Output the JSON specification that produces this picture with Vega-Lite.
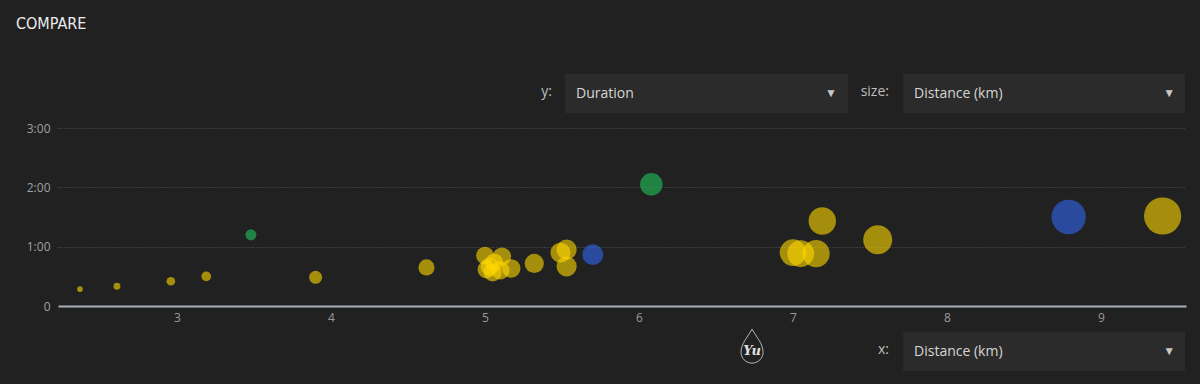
{
  "$schema": "https://vega.github.io/schema/vega-lite/v6.json",
  "width": 1128,
  "height": 178,
  "autosize": {"type": "none"},
  "padding": {"left": 58, "top": 128, "right": 14, "bottom": 78},
  "background": "#212121",
  "config": {
    "view": {"stroke": null},
    "font": "Open Sans",
    "axis": {"labelFont": "Open Sans"}
  },
  "datasets": {
    "one": [{}],
    "activities": [
      {"km": 2.37, "minutes": 17, "type": "Run"},
      {"km": 2.61, "minutes": 20, "type": "Run"},
      {"km": 2.96, "minutes": 25, "type": "Run"},
      {"km": 3.19, "minutes": 30, "type": "Run"},
      {"km": 3.48, "minutes": 72, "type": "Hike"},
      {"km": 3.90, "minutes": 29, "type": "Run"},
      {"km": 4.62, "minutes": 39, "type": "Run"},
      {"km": 5.00, "minutes": 51, "type": "Run"},
      {"km": 5.11, "minutes": 50, "type": "Run"},
      {"km": 5.03, "minutes": 40, "type": "Run"},
      {"km": 5.05, "minutes": 34, "type": "Run"},
      {"km": 5.10, "minutes": 36, "type": "Run"},
      {"km": 5.17, "minutes": 38, "type": "Run"},
      {"km": 5.01, "minutes": 37, "type": "Run"},
      {"km": 5.06, "minutes": 44, "type": "Run"},
      {"km": 5.32, "minutes": 43, "type": "Run"},
      {"km": 5.49, "minutes": 54, "type": "Run"},
      {"km": 5.53, "minutes": 57, "type": "Run"},
      {"km": 5.53, "minutes": 40, "type": "Run"},
      {"km": 5.70, "minutes": 52, "type": "Walk"},
      {"km": 6.08, "minutes": 123, "type": "Hike"},
      {"km": 7.00, "minutes": 54, "type": "Run"},
      {"km": 7.05, "minutes": 53, "type": "Run"},
      {"km": 7.15, "minutes": 53, "type": "Run"},
      {"km": 7.19, "minutes": 86, "type": "Run"},
      {"km": 7.55, "minutes": 67, "type": "Run"},
      {"km": 8.79, "minutes": 90, "type": "Walk"},
      {"km": 9.40, "minutes": 91, "type": "Run"}
    ]
  },
  "layer": [
    {
      "data": {"name": "activities"},
      "mark": {"type": "circle", "opacity": 0.6, "strokeWidth": 0},
      "encoding": {
        "x": {
          "field": "km",
          "type": "quantitative",
          "scale": {"domain": [2.2273, 9.5519], "nice": false, "zero": false},
          "axis": {
            "title": null,
            "values": [3, 4, 5, 6, 7, 8, 9],
            "format": "d",
            "grid": false,
            "ticks": false,
            "domain": true,
            "domainColor": "#a7b0b9",
            "domainWidth": 2,
            "labelColor": "#9a9a9a",
            "labelFontSize": 12,
            "labelPadding": 6
          }
        },
        "y": {
          "field": "minutes",
          "type": "quantitative",
          "scale": {"domain": [0, 180], "nice": false, "zero": true},
          "axis": {
            "title": null,
            "values": [0, 60, 120, 180],
            "labelExpr": "datum.value == 0 ? '0' : floor(datum.value / 60) + ':' + format(datum.value % 60, '02d')",
            "grid": true,
            "gridColor": "#5a5a5a",
            "gridDash": [1, 2],
            "gridWidth": 1,
            "ticks": false,
            "domain": false,
            "labelColor": "#a0a0a0",
            "labelFontSize": 12,
            "labelPadding": 8
          }
        },
        "size": {
          "field": "km",
          "type": "quantitative",
          "scale": {"type": "pow", "exponent": 2.2, "domain": [2.37, 9.41], "range": [32, 1385]},
          "legend": null
        },
        "color": {
          "field": "type",
          "type": "nominal",
          "scale": {"domain": ["Run", "Walk", "Hike"], "range": ["#ffd700", "#2f66f0", "#22c45a"]},
          "legend": null
        }
      }
    },
    {
      "data": {"name": "one"},
      "mark": {"type": "text", "text": "COMPARE", "align": "left", "baseline": "alphabetic", "font": "DejaVu Sans Condensed", "fontSize": 16, "color": "#ececec"},
      "encoding": {
        "x": {"datum": 1.9545, "type": "quantitative", "title": null},
        "y": {"datum": 280.1, "type": "quantitative", "title": null}
      }
    },
    {
      "data": {"name": "one"},
      "mark": {"type": "rect", "fill": "#2b2b2b"},
      "encoding": {
        "x": {"datum": 5.5195, "type": "quantitative", "title": null},
        "x2": {"datum": 7.3571},
        "y": {"datum": 234.6, "type": "quantitative", "title": null},
        "y2": {"datum": 195.2}
      }
    },
    {
      "data": {"name": "one"},
      "mark": {"type": "rect", "fill": "#2b2b2b"},
      "encoding": {
        "x": {"datum": 7.7143, "type": "quantitative", "title": null},
        "x2": {"datum": 9.5455},
        "y": {"datum": 234.6, "type": "quantitative", "title": null},
        "y2": {"datum": 195.2}
      }
    },
    {
      "data": {"name": "one"},
      "mark": {"type": "rect", "fill": "#2b2b2b"},
      "encoding": {
        "x": {"datum": 7.7143, "type": "quantitative", "title": null},
        "x2": {"datum": 9.5455},
        "y": {"datum": -26.3, "type": "quantitative", "title": null},
        "y2": {"datum": -65.7}
      }
    },
    {
      "data": {"name": "one"},
      "mark": {"type": "text", "text": "y:", "align": "right", "baseline": "middle", "fontSize": 14, "color": "#bdbdbd"},
      "encoding": {
        "x": {"datum": 5.435, "type": "quantitative", "title": null},
        "y": {"datum": 216.5, "type": "quantitative", "title": null}
      }
    },
    {
      "data": {"name": "one"},
      "mark": {"type": "text", "text": "Duration", "align": "left", "baseline": "middle", "fontSize": 14, "color": "#d6d6d6"},
      "encoding": {
        "x": {"datum": 5.591, "type": "quantitative", "title": null},
        "y": {"datum": 214.4, "type": "quantitative", "title": null}
      }
    },
    {
      "data": {"name": "one"},
      "mark": {"type": "text", "text": "▼", "align": "center", "baseline": "middle", "fontSize": 12, "color": "#c8c8c8"},
      "encoding": {
        "x": {"datum": 7.247, "type": "quantitative", "title": null},
        "y": {"datum": 214.9, "type": "quantitative", "title": null}
      }
    },
    {
      "data": {"name": "one"},
      "mark": {"type": "text", "text": "size:", "align": "right", "baseline": "middle", "fontSize": 14, "color": "#bdbdbd"},
      "encoding": {
        "x": {"datum": 7.623, "type": "quantitative", "title": null},
        "y": {"datum": 216.5, "type": "quantitative", "title": null}
      }
    },
    {
      "data": {"name": "one"},
      "mark": {"type": "text", "text": "Distance (km)", "align": "left", "baseline": "middle", "fontSize": 14, "color": "#d6d6d6"},
      "encoding": {
        "x": {"datum": 7.786, "type": "quantitative", "title": null},
        "y": {"datum": 214.4, "type": "quantitative", "title": null}
      }
    },
    {
      "data": {"name": "one"},
      "mark": {"type": "text", "text": "▼", "align": "center", "baseline": "middle", "fontSize": 12, "color": "#c8c8c8"},
      "encoding": {
        "x": {"datum": 9.442, "type": "quantitative", "title": null},
        "y": {"datum": 214.9, "type": "quantitative", "title": null}
      }
    },
    {
      "data": {"name": "one"},
      "mark": {"type": "text", "text": "x:", "align": "right", "baseline": "middle", "fontSize": 14, "color": "#bdbdbd"},
      "encoding": {
        "x": {"datum": 7.623, "type": "quantitative", "title": null},
        "y": {"datum": -44.5, "type": "quantitative", "title": null}
      }
    },
    {
      "data": {"name": "one"},
      "mark": {"type": "text", "text": "Distance (km)", "align": "left", "baseline": "middle", "fontSize": 14, "color": "#d6d6d6"},
      "encoding": {
        "x": {"datum": 7.786, "type": "quantitative", "title": null},
        "y": {"datum": -46.5, "type": "quantitative", "title": null}
      }
    },
    {
      "data": {"name": "one"},
      "mark": {"type": "text", "text": "▼", "align": "center", "baseline": "middle", "fontSize": 12, "color": "#c8c8c8"},
      "encoding": {
        "x": {"datum": 9.442, "type": "quantitative", "title": null},
        "y": {"datum": -46.0, "type": "quantitative", "title": null}
      }
    },
    {
      "data": {"name": "one"},
      "mark": {"type": "point", "shape": "M0,-1 C0.25,-0.55 0.6,-0.2 0.6,0.25 A0.6,0.6 0 1 1 -0.6,0.25 C-0.6,-0.2 -0.25,-0.55 0,-1 Z", "size": 1354, "filled": false, "stroke": "#b5b5b5", "strokeWidth": 1, "opacity": 1},
      "encoding": {
        "x": {"datum": 6.734, "type": "quantitative", "title": null},
        "y": {"datum": -42.0, "type": "quantitative", "title": null}
      }
    },
    {
      "data": {"name": "one"},
      "mark": {"type": "text", "text": "Yu", "align": "center", "baseline": "middle", "font": "DejaVu Serif", "fontStyle": "italic", "fontWeight": "bold", "fontSize": 13, "color": "#e0e0e0"},
      "encoding": {
        "x": {"datum": 6.734, "type": "quantitative", "title": null},
        "y": {"datum": -46.0, "type": "quantitative", "title": null}
      }
    }
  ]
}
